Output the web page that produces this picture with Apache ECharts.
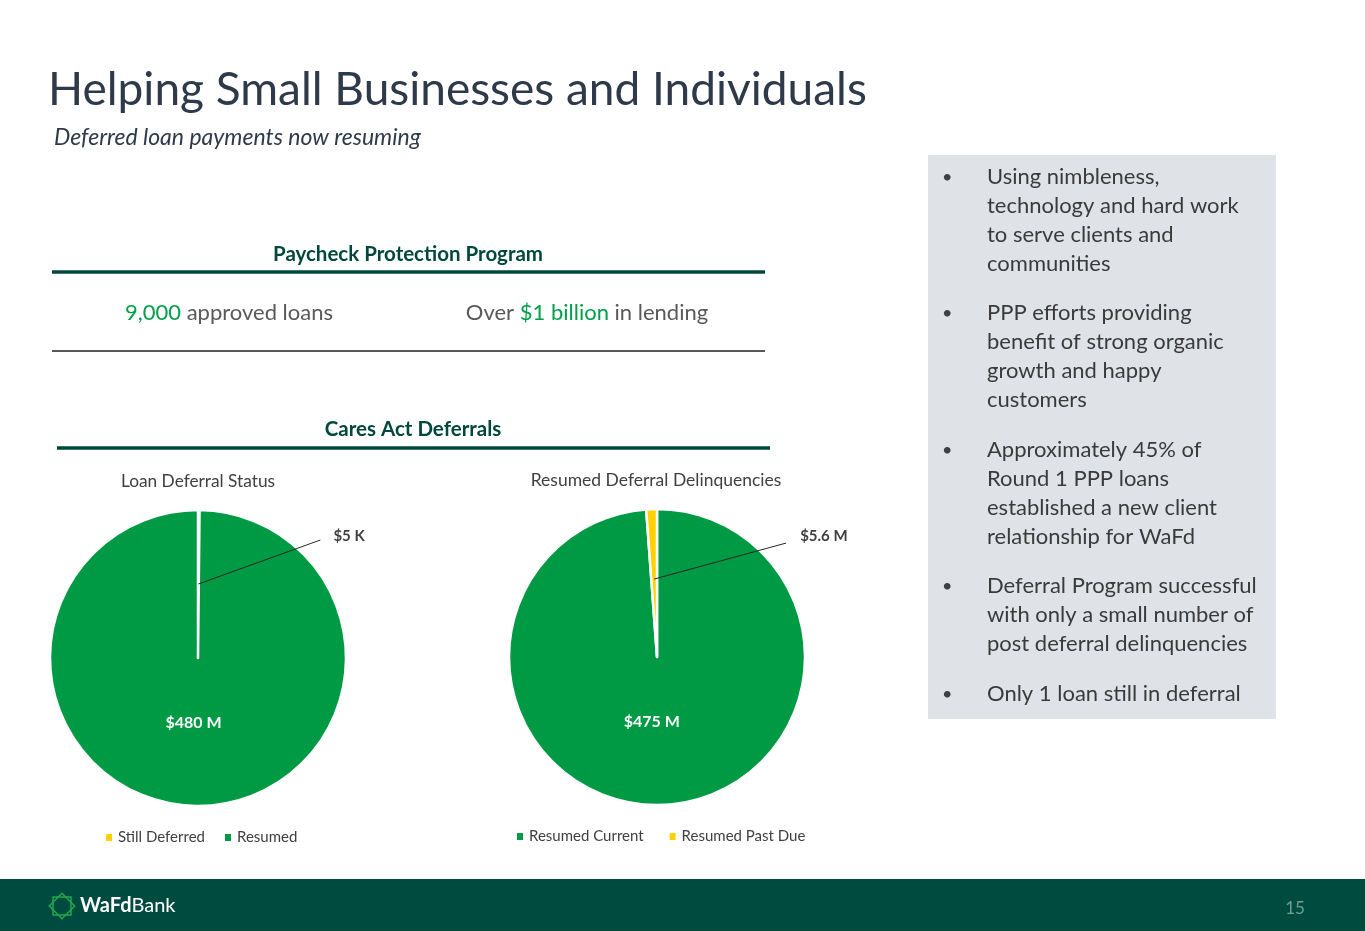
<!DOCTYPE html>
<html><head><meta charset="utf-8">
<script src="https://cdn.jsdelivr.net/npm/echarts@6/dist/echarts.min.js"></script>
<style>html,body{margin:0;padding:0;background:#fff}#c{width:1365px;height:931px}</style>
</head><body><div id="c"></div>
<script>
// ---- data ----
const deferralCategories = ['Still Deferred', 'Resumed'];
const deferralValues = [0.005, 480];          // $ millions ($5 K, $480 M)
const deferralLabels = ['$5 K', '$480 M'];
const delinqCategories = ['Resumed Current', 'Resumed Past Due'];
const delinqValues = [475, 5.6];              // $ millions
const delinqLabels = ['$475 M', '$5.6 M'];
const deferralColors = ['#FFD100', '#009A44'];
const delinqColors = ['#009A44', '#FFD100'];
const bullets = [
  ['Using nimbleness,', 'technology and hard work', 'to serve clients and', 'communities'],
  ['PPP efforts providing', 'benefit of strong organic', 'growth and happy', 'customers'],
  ['Approximately 45% of', 'Round 1 PPP loans', 'established a new client', 'relationship for WaFd'],
  ['Deferral Program successful', 'with only a small number of', 'post deferral delinquencies'],
  ['Only 1 loan still in deferral']
];
const bulletTops = [177, 313, 450, 586, 694];

const FF = 'Lato';
const chart = echarts.init(document.getElementById('c'));

function txt(x, y, text, font, fill, align, extra) {
  return Object.assign({ type: 'text', x: x, y: y, silent: true,
    style: { text: text, font: font, fill: fill, align: align || 'left', verticalAlign: 'middle' } }, extra || {});
}
const g = [];
g.push({ type: 'rect', shape: { x: 928, y: 155, width: 348, height: 564 }, style: { fill: '#DFE3E8' }, silent: true });
g.push({ type: 'rect', shape: { x: 0, y: 879, width: 1365, height: 52 }, style: { fill: '#004B40' }, silent: true });
g.push(txt(48, 90, 'Helping Small Businesses and Individuals', '46px ' + FF, '#2E3A4A'));
g.push(txt(54, 138, 'Deferred loan payments now resuming', 'italic 23px ' + FF, '#2E3A4A'));
g.push(txt(408, 254, 'Paycheck Protection Program', 'bold 20.5px ' + FF, '#00473C', 'center'));
g.push({ type: 'line', shape: { x1: 52, y1: 272, x2: 765, y2: 272 }, style: { stroke: '#00473C', lineWidth: 3.5 }, silent: true });
g.push({ type: 'text', x: 229, y: 313, silent: true, style: { text: '{g|9,000} approved loans', font: '22px ' + FF, fill: '#595959', align: 'center', verticalAlign: 'middle', rich: { g: { fill: '#00A04A', font: '22px ' + FF } } } });
g.push({ type: 'text', x: 587, y: 313, silent: true, style: { text: 'Over {g|$1 billion} in lending', font: '22px ' + FF, fill: '#595959', align: 'center', verticalAlign: 'middle', rich: { g: { fill: '#00A04A', font: '22px ' + FF } } } });
g.push({ type: 'line', shape: { x1: 52, y1: 351, x2: 765, y2: 351 }, style: { stroke: '#595959', lineWidth: 2 }, silent: true });
g.push(txt(413, 429, 'Cares Act Deferrals', 'bold 20.5px ' + FF, '#00473C', 'center'));
g.push({ type: 'line', shape: { x1: 57, y1: 448, x2: 770, y2: 448 }, style: { stroke: '#00473C', lineWidth: 3.5 }, silent: true });
g.push(txt(198, 481, 'Loan Deferral Status', '17.3px ' + FF, '#404040', 'center'));
g.push(txt(656, 480, 'Resumed Deferral Delinquencies', '17.5px ' + FF, '#404040', 'center'));
bullets.forEach(function (lines, b) {
  g.push(txt(942, bulletTops[b], '•', '18px ' + FF, '#404040'));
  lines.forEach(function (line, i) {
    g.push(txt(987, bulletTops[b] + i * 29, line, '22px ' + FF, '#3A3A3A'));
  });
});
g.push(txt(1295, 909, '15', '17px ' + FF, '#6F9E93', 'center'));
// logo
g.push({ type: 'rect', x: 62, y: 906, shape: { x: -9, y: -9, width: 18, height: 18 }, style: { fill: 'none', stroke: '#22A84A', lineWidth: 1.5 }, silent: true });
g.push({ type: 'rect', x: 62, y: 906, rotation: Math.PI / 4, shape: { x: -9, y: -9, width: 18, height: 18 }, style: { fill: 'none', stroke: '#22A84A', lineWidth: 1.5 }, silent: true });
g.push({ type: 'text', x: 80, y: 906, silent: true, style: { text: '{b|WaFd}Bank', font: '20px ' + FF, fill: '#fff', verticalAlign: 'middle', rich: { b: { font: 'bold 20px ' + FF, fill: '#fff' } } } });

function smallIdx(vals) { return vals.indexOf(Math.min.apply(null, vals)); }

function leader(idx, dxLine, dyLine, dxLabel, dyLabel) {
  return function (p) {
    if (p.dataIndex !== idx) return {};
    const pts = p.labelLinePoints;
    if (!pts || !pts.length) return {};
    const s = pts[0];
    return {
      x: s[0] + dxLabel, y: s[1] + dyLabel, align: 'left', verticalAlign: 'middle',
      labelLinePoints: [[s[0], s[1]], [s[0] + dxLine, s[1] + dyLine]]
    };
  };
}
function inner(idx, dx, dy) {
  return function (p) {
    if (p.dataIndex === idx) return {};
    const r = p.labelRect;
    return { x: r.x + r.width / 2 + dx, y: r.y + r.height / 2 + dy, align: 'center', verticalAlign: 'middle' };
  };
}

function mainPie(center, cats, vals, labels, colors, small, dx) {
  return {
    type: 'pie', z: 2, center: center, radius: [0, 148], startAngle: 90, clockwise: true, minAngle: 0.6,
    avoidLabelOverlap: false, silent: true, animation: false,
    itemStyle: { borderColor: '#fff', borderWidth: 2.5 },
    label: { show: true, position: 'inside', color: '#fff', fontFamily: FF, fontWeight: 'bold', fontSize: 16,
      formatter: function (p) { return p.dataIndex === small ? '' : labels[p.dataIndex]; } },
    labelLine: { show: false },
    labelLayout: inner(small, dx, -12),
    data: cats.map(function (n, i) { return { name: n, value: vals[i], itemStyle: { color: colors[i] } }; })
  };
}
function overlayPie(center, r, cats, vals, labels, small, lay) {
  return {
    type: 'pie', z: 5, center: center, radius: [0, r], startAngle: 90, clockwise: true, minAngle: 0.6,
    avoidLabelOverlap: false, silent: true, animation: false,
    itemStyle: { color: 'rgba(0,0,0,0)', borderWidth: 0 },
    label: { show: false },
    labelLine: { show: false },
    labelLayout: lay,
    data: cats.map(function (n, i) {
      const d = { name: n, value: vals[i] };
      if (i === small) {
        d.label = { show: true, position: 'outside', formatter: labels[i], color: '#404040', fontFamily: FF, fontWeight: 'bold', fontSize: 15 };
        d.labelLine = { show: true, length: 10, length2: 10, lineStyle: { color: '#262626', width: 1 } };
      }
      return d;
    })
  };
}

const s1 = smallIdx(deferralValues), s2 = smallIdx(delinqValues);
const legendBase = { icon: 'rect', itemWidth: 8, itemHeight: 9, selectedMode: false, padding: 0,
  textStyle: { fontFamily: FF, fontSize: 15, color: '#404040' } };

chart.setOption({
  animation: false,
  graphic: g,
  legend: [
    Object.assign({}, legendBase, { left: 104, top: 830, itemGap: 18,
      data: deferralCategories.map(function (n, i) { return { name: n, itemStyle: { color: deferralColors[i] } }; }) }),
    Object.assign({}, legendBase, { left: 515, top: 829, itemGap: 24,
      data: delinqCategories.map(function (n, i) { return { name: n, itemStyle: { color: delinqColors[i] } }; }) })
  ],
  series: [
    mainPie([198, 658], deferralCategories, deferralValues, deferralLabels, deferralColors, s1, -4),
    overlayPie([198, 658], 74, deferralCategories, deferralValues, deferralLabels, s1, leader(s1, 122, -44, 135, -48)),
    mainPie([657, 657], delinqCategories, delinqValues, delinqLabels, delinqColors, s2, -8),
    overlayPie([657, 657], 78, delinqCategories, delinqValues, delinqLabels, s2, leader(s2, 132, -36, 146, -43))
  ]
});
</script></body></html>
